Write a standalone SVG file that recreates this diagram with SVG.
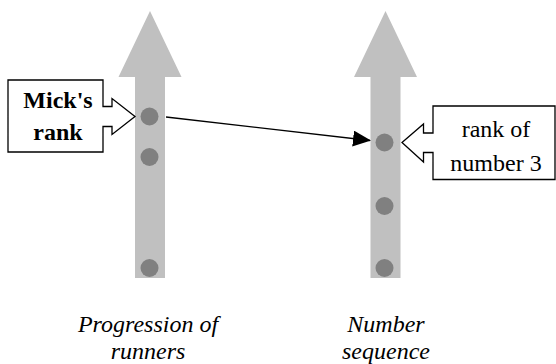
<svg xmlns="http://www.w3.org/2000/svg" width="556" height="364" viewBox="0 0 556 364">
  <defs>
    <style>
      .shaft { fill: #c0c0c0; }
      .dot { fill: #808080; }
      .callout { fill: #ffffff; stroke: #000000; stroke-width: 1.3; }
      .conn { stroke: #000000; stroke-width: 1.3; fill: none; }
      text { font-family: "Liberation Serif", "Tinos", "Times New Roman", Times, "DejaVu Serif", serif; font-size: 24px; text-anchor: middle; fill: #000; }
    </style>
    <marker id="arrow" viewBox="0 0 18 16" refX="17" refY="8" markerWidth="18" markerHeight="16" markerUnits="userSpaceOnUse" orient="auto">
      <path d="M0,0 L18,8 L0,16 Z" fill="#000000"/>
    </marker>
  </defs>

  <g id="runners-axis">
    <path class="shaft" d="M150,11 L181.5,77 L165,77 L165,278 L135,278 L135,77 L118.5,77 Z"/>
    <circle class="dot" cx="149.5" cy="116.5" r="9"/>
    <circle class="dot" cx="149.5" cy="157" r="9"/>
    <circle class="dot" cx="149.5" cy="268" r="9"/>
    <text font-style="italic" x="148" y="332">Progression of</text>
    <text font-style="italic" x="148" y="359">runners</text>
  </g>

  <g id="number-axis">
    <path class="shaft" d="M385.5,11 L417,77 L400.5,77 L400.5,278 L370.5,278 L370.5,77 L354,77 Z"/>
    <circle class="dot" cx="384.5" cy="142.5" r="9"/>
    <circle class="dot" cx="384.5" cy="206" r="9"/>
    <circle class="dot" cx="384.5" cy="268" r="9"/>
    <text font-style="italic" x="386" y="332">Number</text>
    <text font-style="italic" x="386" y="359">sequence</text>
  </g>

  <g id="micks-rank">
    <path class="callout" d="M8,80 H103 V106.5 H112 V98.5 L135,116.5 L112,134.5 V126.5 H103 V152 H8 Z"/>
    <text font-weight="bold" x="58" y="108">Mick's</text>
    <text font-weight="bold" x="58" y="140">rank</text>
  </g>

  <g id="rank-of-number-3">
    <path class="callout" d="M555,106 H433 V133 H423.5 V124 L402,142.5 L423.5,162 V152.5 H433 V179.5 H555 Z"/>
    <text x="496" y="137">rank of</text>
    <text x="496" y="171">number 3</text>
  </g>

  <g id="connectors">
    <line class="conn" x1="166" y1="117" x2="370" y2="140.5" marker-end="url(#arrow)"/>
  </g>
</svg>
